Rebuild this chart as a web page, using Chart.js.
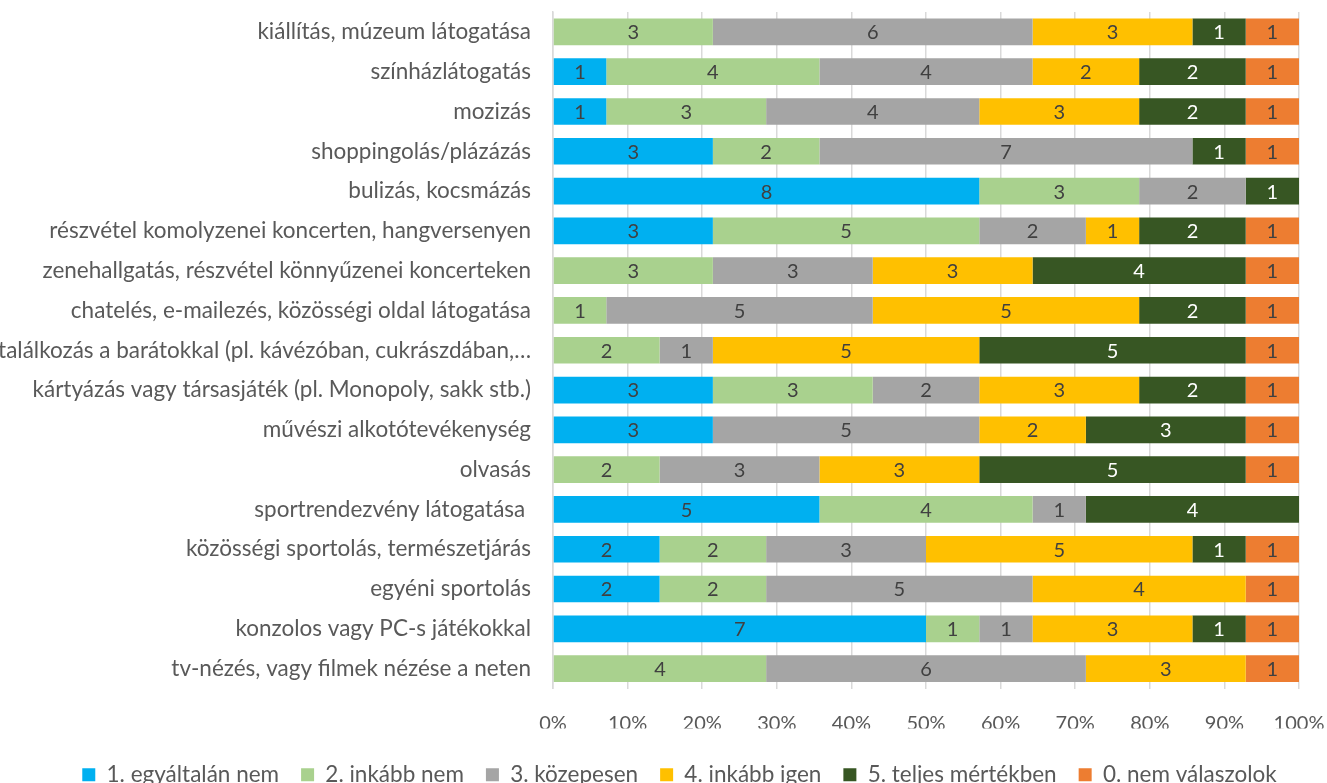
<!DOCTYPE html>
<html>
<head>
<meta charset="utf-8">
<script src="https://cdn.jsdelivr.net/npm/chart.js@4/dist/chart.umd.min.js"></script>
<style>
html,body{margin:0;padding:0;background:#fff;}
#wrap{width:1327px;height:783px;position:relative;}
</style>
</head>
<body>
<div id="wrap"><canvas id="c" width="1327" height="783"></canvas></div>
<script>
const categories = [
  "kiállítás, múzeum látogatása",
  "színházlátogatás",
  "mozizás",
  "shoppingolás/plázázás",
  "bulizás, kocsmázás",
  "részvétel komolyzenei koncerten, hangversenyen",
  "zenehallgatás, részvétel könnyűzenei koncerteken",
  "chatelés, e-mailezés, közösségi oldal látogatása",
  "találkozás a barátokkal (pl. kávézóban, cukrászdában,…",
  "kártyázás vagy társasjáték (pl. Monopoly, sakk stb.)",
  "művészi alkotótevékenység",
  "olvasás",
  "sportrendezvény látogatása ",
  "közösségi sportolás, természetjárás",
  "egyéni sportolás",
  "konzolos vagy PC-s játékokkal",
  "tv-nézés, vagy filmek nézése a neten"
];
const seriesNames = ["1. egyáltalán nem","2. inkább nem","3. közepesen","4. inkább igen","5. teljes mértékben","0. nem válaszolok"];
const s1 = [0,1,1,3,8,3,0,0,0,3,3,0,5,2,2,7,0];
const s2 = [3,4,3,2,3,5,3,1,2,3,0,2,4,2,2,1,4];
const s3 = [6,4,4,7,2,2,3,5,1,2,5,3,1,3,5,1,6];
const s4 = [3,2,3,0,0,1,3,5,5,3,2,3,0,5,4,3,3];
const s5 = [1,2,2,1,1,2,4,2,5,2,3,5,4,1,0,1,0];
const s0 = [1,1,1,1,0,1,1,1,1,1,1,1,0,1,1,1,1];
const tickLabels = ["0%","10%","20%","30%","40%","50%","60%","70%","80%","90%","100%"];

const colors = ["#00B0F0","#A9D18E","#A5A5A5","#FFC000","#375623","#ED7D31"];
const labelColors = ["#404040","#404040","#404040","#404040","#FFFFFF","#404040"];
const counts = [s1,s2,s3,s4,s5,s0];
const totals = categories.map((_,i)=>counts.reduce((a,s)=>a+s[i],0));
const FONT = "Lato, 'Open Sans', sans-serif";
const FS = 22.5;
const FS_NUM = 20;

const datasets = counts.map((s,k)=>({
  label: seriesNames[k],
  data: s.map((v,i)=>v/totals[i]*100),
  counts: s,
  backgroundColor: colors[k],
  borderWidth: 0,
  barPercentage: 0.67,
  categoryPercentage: 1.0
}));

const valueLabels = {
  id: 'valueLabels',
  afterDatasetsDraw(chart){
    const ctx = chart.ctx;
    ctx.save();
    ctx.font = FS_NUM + "px " + FONT;
    ctx.textAlign = "center";
    ctx.textBaseline = "middle";
    chart.data.datasets.forEach((ds,k)=>{
      const meta = chart.getDatasetMeta(k);
      meta.data.forEach((el,i)=>{
        const v = ds.counts[i];
        if(!v) return;
        const p = el.getProps(['x','y','base'], true);
        ctx.fillStyle = labelColors[k];
        ctx.fillText(String(v), (p.x+p.base)/2, p.y+1);
      });
    });
    ctx.restore();
  }
};

const legendShift = {
  id: 'legendShift',
  afterLayout(chart){
    const lg = chart.legend;
    if(!lg) return;
    lg.left += 30; lg.right += 30;
    const dy = 783 - lg.bottom + 13;
    lg.top += dy; lg.bottom += dy;
  }
};

new Chart(document.getElementById('c'), {
  type: 'bar',
  data: { labels: categories, datasets },
  options: {
    indexAxis: 'y',
    responsive: false,
    animation: false,
    layout: { padding: { top: 12, right: 28, left: 0, bottom: 0 } },
    scales: {
      x: {
        stacked: true, min: 0, max: 100,
        ticks: { stepSize: 10, color: "#595959", font: { family: FONT, size: FS_NUM }, padding: 23,
          callback: (v,i)=>tickLabels[i] },
        grid: { color: "#D9D9D9", lineWidth: 1.5, drawTicks: false },
        border: { display: false },
        afterFit(scale){ scale.paddingRight = 0; scale.paddingLeft = 0; scale.height = 40; }
      },
      y: {
        stacked: true,
        ticks: { color: "#595959", font: { family: FONT, size: FS }, padding: 22, autoSkip: false },
        grid: { display: false, drawTicks: false },
        border: { display: true, color: "#D9D9D9", width: 1.5 },
        afterFit(scale){ scale.width = 553; scale.paddingTop = 0; scale.paddingBottom = 0; }
      }
    },
    plugins: {
      legend: {
        position: 'bottom',
        labels: { color: "#595959", font: { family: FONT, size: FS }, boxWidth: 13, boxHeight: 13, padding: 22 }
      },
      tooltip: { enabled: false }
    }
  },
  plugins: [valueLabels, legendShift]
});
</script>
</body>
</html>
